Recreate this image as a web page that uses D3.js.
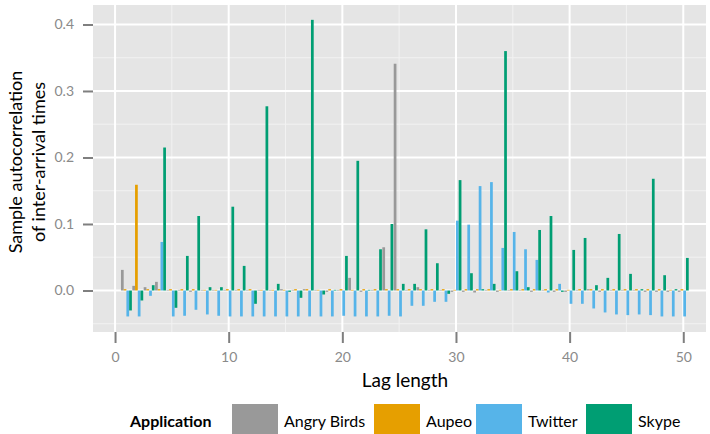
<!DOCTYPE html>
<html>
<head>
<meta charset="utf-8">
<script src="https://cdn.jsdelivr.net/npm/d3@7"></script>
<style>
  html, body { margin: 0; padding: 0; background: #ffffff; }
  svg { display: block; font-family: "Lato", "Open Sans", sans-serif; }
</style>
</head>
<body>
<svg id="chart" width="710" height="434"></svg>
<script>
// Sample autocorrelation of inter-arrival times per lag, four applications
const lags = d3.range(1, 51);
const seriesNames = ["Angry Birds", "Aupeo", "Twitter", "Skype"];
const seriesColors = ["#999999", "#E69F00", "#56B4E9", "#009E73"];

const angryBirds = [
  0.031, 0.007, 0.005, 0.013, 0.001, 0.001, -0.002, 0.001, 0.001, 0.001,
  0.001, 0.001, 0.001, 0.001, 0.002, 0.001, 0.002, 0.001, -0.002, 0.001,
  0.019, -0.002, 0.001, 0.065, 0.341, 0.001, 0.005, 0.001, 0.001, -0.002,
  -0.002, -0.003, 0.001, -0.002, 0.001, 0.001, -0.002, 0.001, -0.002, -0.002,
  0.001, 0.002, -0.002, 0.001, 0.001, 0.001, -0.002, -0.002, -0.002, -0.002
];
const aupeo = [
  0.002, 0.159, 0.002, 0.002, 0.002, 0.002, 0.002, 0.001, 0.001, 0.002,
  0.002, 0.002, 0.001, 0.001, 0.001, 0.002, 0.002, 0.001, 0.002, 0.002,
  0.001, 0.002, 0.002, 0.002, 0.002, 0.002, 0.002, 0.002, 0.002, 0.001,
  0.002, 0.002, 0.002, 0.001, 0.002, 0.002, 0.002, 0.002, 0.002, 0.001,
  0.002, 0.002, 0.002, 0.002, 0.002, 0.002, 0.002, 0.002, 0.001, 0.002
];
const twitter = [
  -0.039, -0.039, -0.008, 0.073, -0.039, -0.038, -0.029, -0.036, -0.038, -0.039,
  -0.039, -0.039, -0.039, -0.039, -0.039, -0.039, -0.039, -0.039, -0.039, -0.038,
  -0.039, -0.039, -0.039, -0.038, -0.039, -0.023, -0.023, -0.017, -0.017, 0.105,
  0.099, 0.157, 0.163, 0.064, 0.088, 0.062, 0.046, -0.003, 0.010, -0.020,
  -0.020, -0.027, -0.033, -0.036, -0.037, -0.036, -0.037, -0.039, -0.039, -0.039
];
const skype = [
  -0.030, -0.015, 0.008, 0.215, -0.026, 0.052, 0.112, 0.005, 0.005, 0.126,
  0.037, -0.020, 0.277, 0.010, -0.002, -0.011, 0.407, -0.006, 0.001, 0.052,
  0.195, 0.001, 0.062, 0.100, 0.010, 0.010, 0.092, 0.041, -0.005, 0.166,
  0.026, 0.002, 0.010, 0.360, 0.029, 0.005, 0.091, 0.112, -0.002, 0.061,
  0.079, 0.008, 0.019, 0.085, 0.025, 0.002, 0.168, 0.023, 0.002, 0.049
];

const xTicks = [0, 10, 20, 30, 40, 50];
const xMinor = [5, 15, 25, 35, 45];
const yTicks = [0.0, 0.1, 0.2, 0.3, 0.4];
const yMinor = [-0.05, 0.05, 0.15, 0.25, 0.35];

const seriesValues = [angryBirds, aupeo, twitter, skype];
const rows = [];
seriesNames.forEach((name, si) => {
  lags.forEach((lag, i) => rows.push({ series: name, lag: lag, value: seriesValues[si][i] }));
});

const svg = d3.select("#chart");
const panel = { left: 93, right: 706, top: 5, bottom: 332 };

const x = d3.scaleLinear().domain([-1.94, 52.0]).range([panel.left, panel.right]);
const y = d3.scaleLinear().domain([-0.0624, 0.4293]).range([panel.bottom, panel.top]);
const color = d3.scaleOrdinal().domain(seriesNames).range(seriesColors);

// dodge positions inside each lag
const groupWidth = x(0.96) - x(0);
const inner = d3.scaleBand().domain(seriesNames).range([-groupWidth / 2, groupWidth / 2]).padding(0);

// panel background
svg.append("rect")
  .attr("x", panel.left).attr("y", panel.top)
  .attr("width", panel.right - panel.left).attr("height", panel.bottom - panel.top)
  .attr("fill", "#e5e5e5");

const grid = svg.append("g");
grid.selectAll(".vminor").data(xMinor).join("line")
  .attr("x1", d => x(d)).attr("x2", d => x(d))
  .attr("y1", panel.top).attr("y2", panel.bottom)
  .attr("stroke", "#f2f2f2").attr("stroke-width", 1);
grid.selectAll(".hminor").data(yMinor).join("line")
  .attr("x1", panel.left).attr("x2", panel.right)
  .attr("y1", d => y(d)).attr("y2", d => y(d))
  .attr("stroke", "#f2f2f2").attr("stroke-width", 1);
grid.selectAll(".vmajor").data(xTicks).join("line")
  .attr("x1", d => x(d)).attr("x2", d => x(d))
  .attr("y1", panel.top).attr("y2", panel.bottom)
  .attr("stroke", "#ffffff").attr("stroke-width", 2);
grid.selectAll(".hmajor").data(yTicks).join("line")
  .attr("x1", panel.left).attr("x2", panel.right)
  .attr("y1", d => y(d)).attr("y2", d => y(d))
  .attr("stroke", "#ffffff").attr("stroke-width", 2);

// bars
svg.append("g").selectAll("rect").data(rows).join("rect")
  .attr("x", d => x(d.lag) + inner(d.series))
  .attr("width", inner.bandwidth())
  .attr("y", d => y(Math.max(0, d.value)))
  .attr("height", d => Math.abs(y(d.value) - y(0)))
  .attr("fill", d => color(d.series));

// axes
const yAxis = d3.axisLeft(y).tickValues(yTicks).tickFormat(d3.format(".1f"))
  .tickSize(10).tickPadding(9);
const gy = svg.append("g").attr("transform", `translate(${panel.left},0)`).call(yAxis);

const xAxis = d3.axisBottom(x).tickValues(xTicks).tickFormat(d3.format("d"))
  .tickSize(11).tickPadding(9);
const gx = svg.append("g").attr("transform", `translate(0,${panel.bottom})`).call(xAxis);

[gx, gy].forEach(g => {
  g.select(".domain").remove();
  g.selectAll(".tick line").attr("stroke", "#7f7f7f").attr("stroke-width", 2);
  g.selectAll(".tick text").attr("fill", "#8a8a8a")
    .style("font-family", "Lato, sans-serif").style("font-size", "14px");
});

// axis titles
svg.append("text")
  .attr("x", 405).attr("y", 387)
  .attr("text-anchor", "middle")
  .style("font-size", "19px").attr("fill", "#000")
  .text("Lag length");

const yTitle = svg.append("text")
  .attr("transform", "translate(0,162) rotate(-90)")
  .attr("text-anchor", "middle")
  .style("font-size", "18px").attr("fill", "#000");
yTitle.append("tspan").attr("x", 0).attr("y", 22).text("Sample autocorrelation");
yTitle.append("tspan").attr("x", 0).attr("y", 45).text("of inter-arrival times");

// legend
const legend = svg.append("g");
legend.append("text")
  .attr("x", 130).attr("y", 427)
  .style("font-size", "16px").style("font-weight", "bold")
  .text("Application");

const keyX = [232, 374, 476, 586];
seriesNames.forEach((name, i) => {
  legend.append("rect")
    .attr("x", keyX[i]).attr("y", 404)
    .attr("width", 46).attr("height", 34)
    .attr("fill", color(name));
  legend.append("text")
    .attr("x", keyX[i] + 52).attr("y", 427)
    .style("font-size", "16px")
    .text(name);
});
</script>
</body>
</html>
